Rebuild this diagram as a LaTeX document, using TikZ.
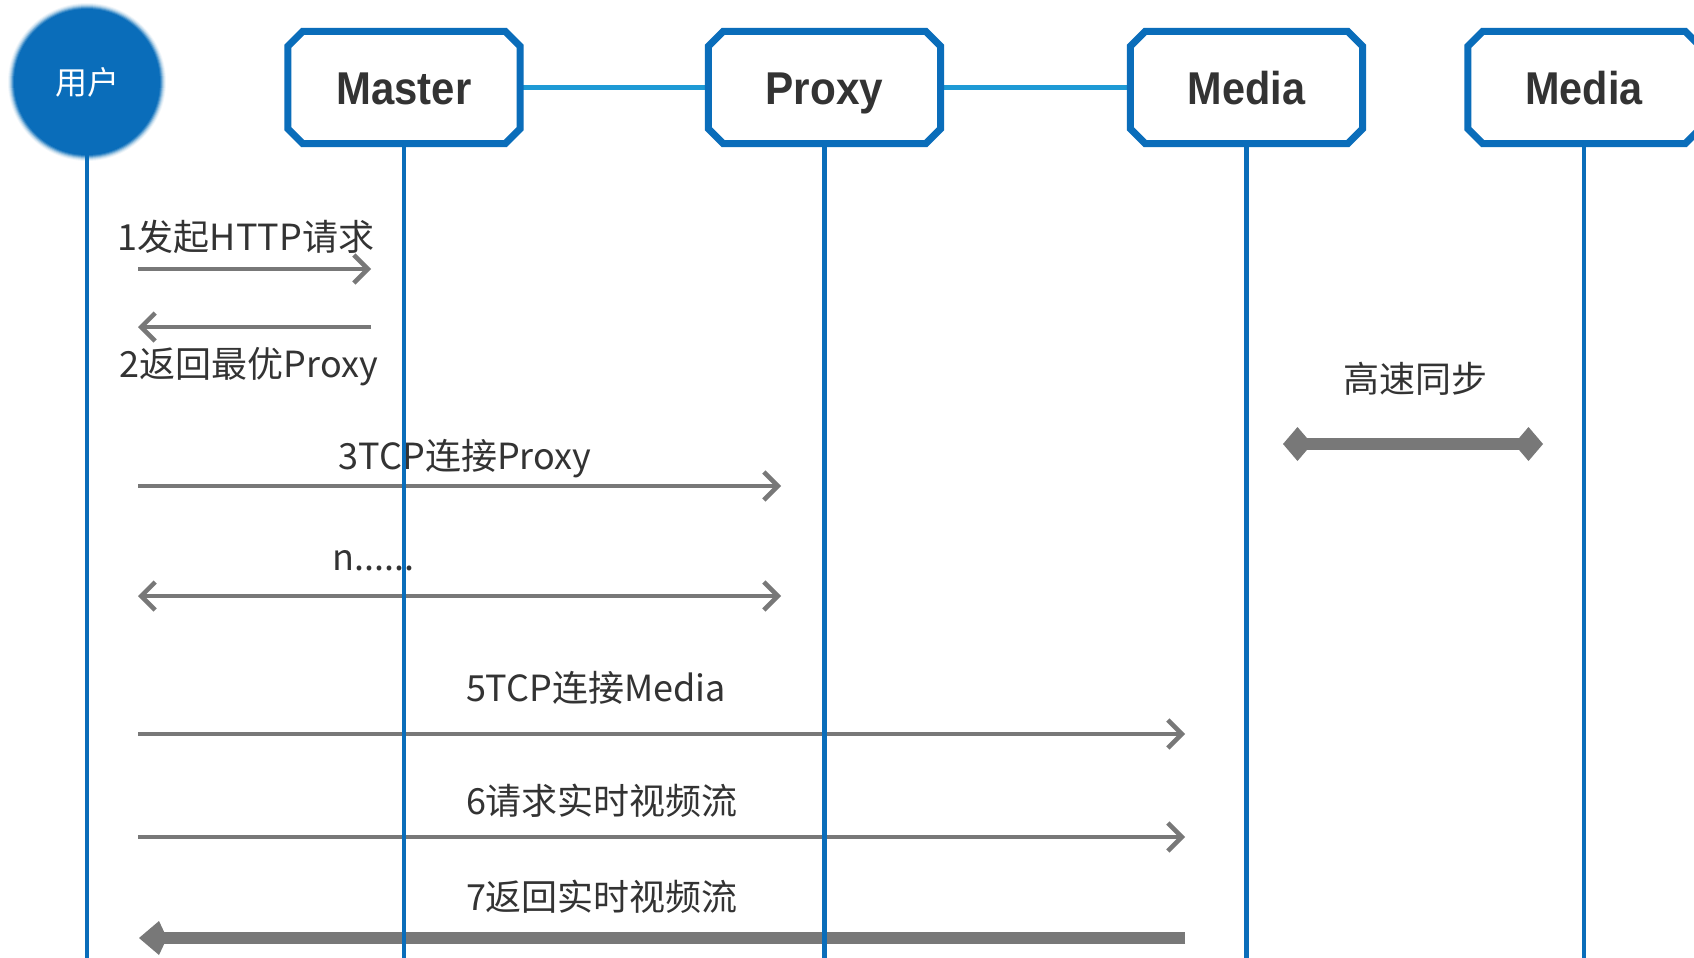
\documentclass[tikz,border=0pt]{standalone}
\usepackage{fontspec}
\setmainfont{Liberation Sans}
\newfontfamily\cjk{Noto Sans CJK SC}
\usetikzlibrary{arrows.meta}
\definecolor{blueA}{HTML}{0A6DBA}
\definecolor{blueL}{HTML}{1E9AD5}
\definecolor{arrowG}{HTML}{787878}
\definecolor{textG}{HTML}{333333}
\newcommand\chbox[1]{%
  \draw[boxline] ([xshift=15pt]#1.north west) -- ([xshift=-15pt]#1.north east)
    -- ([yshift=-15pt]#1.north east) -- ([yshift=15pt]#1.south east)
    -- ([xshift=-15pt]#1.south east) -- ([xshift=15pt]#1.south west)
    -- ([yshift=15pt]#1.south west) -- ([yshift=-15pt]#1.north west) -- cycle;}
\begin{document}
\begin{tikzpicture}[x=1pt,y=-1pt,
  boxnode/.style={rectangle, minimum width=232pt, minimum height=112pt, inner sep=0pt,
    font=\fontsize{46}{50}\selectfont\bfseries, text=textG},
  boxtext/.style={inner sep=0pt, text height=33pt, text depth=0pt,
    font=\fontsize{46}{50}\selectfont\bfseries, text=textG},
  boxline/.style={draw=blueA, line width=7pt, fill=white, line join=miter},
  conn/.style={draw=blueL, line width=5pt},
  life/.style={draw=blueA, line width=4.3pt},
  lbl/.style={font=\cjk\fontsize{36}{40}\selectfont, text=textG, inner sep=0pt},
  msg/.style={draw=arrowG, line width=4.5pt, -{Straight Barb[length=14pt,width=28pt]}},
  msgboth/.style={draw=arrowG, line width=4.5pt, {Straight Barb[length=14pt,width=28pt]}-{Straight Barb[length=14pt,width=28pt]}},
  syncline/.style={draw=arrowG, line width=12pt, {Diamond[length=29pt,width=34pt]}-{Diamond[length=29pt,width=34pt]}},
  bigret/.style={draw=arrowG, line width=12pt, -{Kite[length=28pt,width=34pt,inset=8pt]}}
]
\useasboundingbox (0,0) rectangle (1694,958);
\fill[white] (0,0) rectangle (1694,958);

% user circle with soft edge
\foreach \r/\o in {79/0.06, 78/0.1, 77/0.16, 76/0.25, 75/0.4, 74/0.6}
  \fill[blueA, opacity=\o] (87,82) circle (\r);
\node[circle, fill=blueA, minimum size=146pt, inner sep=0pt, text=white,
  font=\cjk\fontsize{32}{34}\selectfont] (user) at (87,82) {用户};

% boxes
\node[boxnode] (master) at (404,87.5) {};
\node[boxnode] (proxy) at (824.5,87.5) {};
\node[boxnode] (media1) at (1246.5,87.5) {};
\node[boxnode] (media2) at (1584,87.5) {};
\draw[conn] (master.east) -- (proxy.west);
\draw[conn] (proxy.east) -- (media1.west);
\chbox{master}\chbox{proxy}\chbox{media1}\chbox{media2}
\node[boxtext] (masterT) at (master) {\scalebox{0.91}[1]{Master}};
\node[boxtext] (proxyT) at (proxy) {\scalebox{0.92}[1]{Proxy}};
\node[boxtext] (media1T) at (media1) {\scalebox{0.9}[1]{Media}};
\node[boxtext] (media2T) at (media2) {\scalebox{0.9}[1]{Media}};

% message endpoints
\coordinate (m1a) at (138,269);  \coordinate (m1b) at (371,269);
\coordinate (m2a) at (371,327);  \coordinate (m2b) at (138,327);
\coordinate (m3a) at (138,486);  \coordinate (m3b) at (781,486);
\coordinate (m4a) at (138,596);  \coordinate (m4b) at (781,596);
\coordinate (m5a) at (138,734);  \coordinate (m5b) at (1185,734);
\coordinate (m6a) at (138,837);  \coordinate (m6b) at (1185,837);
\coordinate (m7a) at (1185,938); \coordinate (m7b) at (139,938);
\coordinate (sa) at (1283,444);  \coordinate (sb) at (1543,444);
\coordinate (bot) at (0,962);

% messages
\draw[msg] (m1a) -- (m1b);
\node[lbl] (t1) at (246,237) {1发起HTTP请求};
\draw[msg] (m2a) -- (m2b);
\node[lbl] (t2) at (249,367) {2返回最优Proxy};
\draw[msg] (m3a) -- (m3b);
\node[lbl] (t3) at (465,459) {3TCP连接Proxy};
\draw[msgboth] (m4a) -- (m4b);
\node[lbl, anchor=west] (t4) at (332,561) {n......};
\draw[msg] (m5a) -- (m5b);
\node[lbl] (t5) at (596,688) {5TCP连接Media};
\draw[msg] (m6a) -- (m6b);
\node[lbl] (t6) at (602,801) {6请求实时视频流};
\draw[bigret] (m7a) -- (m7b);
\node[lbl] (t7) at (602,897) {7返回实时视频流};
\draw[syncline] (sa) -- (sb);
\node[lbl] (ts) at (1415,379) {高速同步};

% lifelines on top
\draw[life] (user.south) -- (user.south |- bot);
\draw[life] ([yshift=-3.5pt]master.south) -- (master.south |- bot);
\draw[life] ([yshift=-3.5pt]proxy.south) -- (proxy.south |- bot);
\draw[life] ([yshift=-3.5pt]media1.south) -- (media1.south |- bot);
\draw[life] ([yshift=-3.5pt]media2.south) -- (media2.south |- bot);
\end{tikzpicture}
\end{document}
